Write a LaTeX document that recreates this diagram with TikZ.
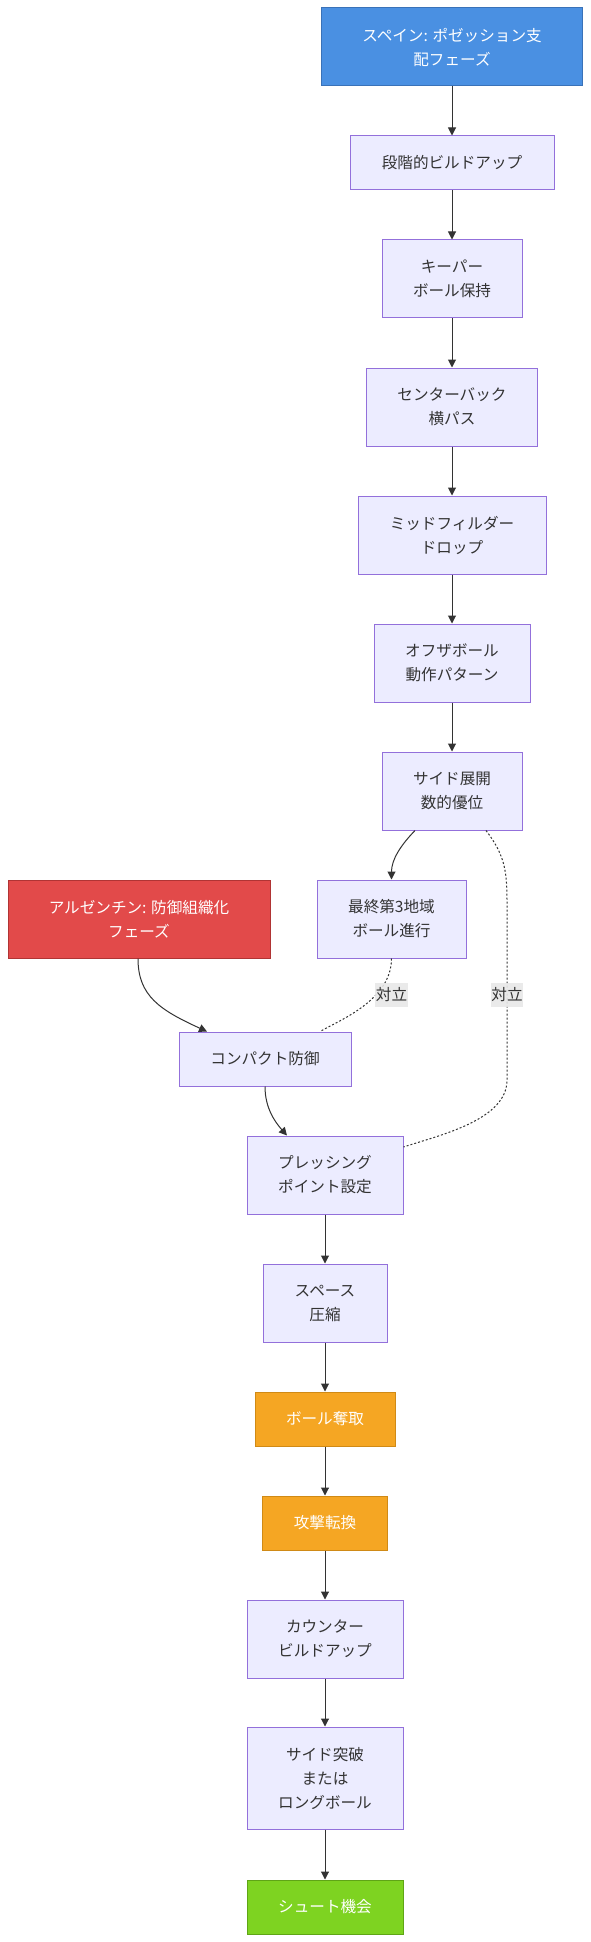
\documentclass[tikz,border=0pt]{standalone}
\usepackage{fontspec}
\setmainfont{Noto Sans CJK JP}
\usetikzlibrary{arrows.meta,calc}
\definecolor{lavfill}{HTML}{ECECFF}
\definecolor{lavborder}{HTML}{9370DB}
\definecolor{txt}{HTML}{333333}
\definecolor{bluefill}{HTML}{4A90E2}
\definecolor{blueborder}{HTML}{3A72B8}
\definecolor{redfill}{HTML}{E24A4A}
\definecolor{redborder}{HTML}{B03434}
\definecolor{orangefill}{HTML}{F5A623}
\definecolor{orangeborder}{HTML}{D08A16}
\definecolor{greenfill}{HTML}{7ED321}
\definecolor{greenborder}{HTML}{5FA516}
\definecolor{lblbg}{HTML}{E8E8E8}
\begin{document}
\begin{tikzpicture}[x=1pt,y=-1pt,
  every node/.style={font=\fontsize{15.6pt}{24pt}\selectfont, align=center, inner sep=0pt},
  box/.style={draw=lavborder, fill=lavfill, text=txt, line width=1pt},
  bluebox/.style={draw=blueborder, fill=bluefill, text=white, line width=1pt},
  redbox/.style={draw=redborder, fill=redfill, text=white, line width=1pt},
  orangebox/.style={draw=orangeborder, fill=orangefill, text=white, line width=1pt},
  greenbox/.style={draw=greenborder, fill=greenfill, text=white, line width=1pt},
  lbl/.style={fill=lblbg, fill opacity=0.9, text opacity=1, text=txt, minimum height=24pt, inner xsep=0.5pt},
  arr/.style={draw=txt, line width=1pt, -{Triangle[length=8pt,width=8pt]}},
  dotline/.style={draw=txt, line width=1pt, dash pattern=on 2pt off 2pt}
]
\useasboundingbox[fill=white] (0,0) rectangle (591,1942);

\node[bluebox, minimum width=261pt, minimum height=78pt] (n1) at (452,47) {スペイン: ポゼッション支\\配フェーズ};
\node[box, minimum width=204pt, minimum height=54pt] (n2) at (452,163) {段階的ビルドアップ};
\node[box, minimum width=140pt, minimum height=78pt] (n3) at (452,279) {キーパー\\ボール保持};
\node[box, minimum width=171pt, minimum height=78pt] (n4) at (452,407) {センターバック\\横パス};
\node[box, minimum width=188pt, minimum height=78pt] (n5) at (452,535) {ミッドフィルダー\\ドロップ};
\node[box, minimum width=156pt, minimum height=78pt] (n6) at (452,663) {オフザボール\\動作パターン};
\node[box, minimum width=140pt, minimum height=78pt] (n7) at (452,791) {サイド展開\\数的優位};
\node[box, minimum width=149pt, minimum height=78pt] (n8) at (391.5,919) {最終第3地域\\ボール進行};
\node[redbox, minimum width=262pt, minimum height=78pt] (arg) at (139,919) {アルゼンチン: 防御組織化\\フェーズ};
\node[box, minimum width=172pt, minimum height=54pt] (n10) at (265,1059) {コンパクト防御};
\node[box, minimum width=156pt, minimum height=78pt] (n11) at (325,1175) {プレッシング\\ポイント設定};
\node[box, minimum width=124pt, minimum height=78pt] (n12) at (325,1303) {スペース\\圧縮};
\node[orangebox, minimum width=140pt, minimum height=54pt] (n13) at (325,1419) {ボール奪取};
\node[orangebox, minimum width=125pt, minimum height=54pt] (n14) at (325,1523) {攻撃転換};
\node[box, minimum width=156pt, minimum height=78pt] (n15) at (325,1639) {カウンター\\ビルドアップ};
\node[box, minimum width=156pt, minimum height=102pt] (n16) at (325,1778) {サイド突破\\または\\ロングボール};
\node[greenbox, minimum width=156pt, minimum height=54pt] (n17) at (325,1907) {シュート機会};

% straight arrows
\draw[arr] (n1.south) -- (n2.north);
\draw[arr] (n2.south) -- (n3.north);
\draw[arr] (n3.south) -- (n4.north);
\draw[arr] (n4.south) -- (n5.north);
\draw[arr] (n5.south) -- (n6.north);
\draw[arr] (n6.south) -- (n7.north);
\draw[arr] (n11.south) -- (n12.north);
\draw[arr] (n12.south) -- (n13.north);
\draw[arr] (n13.south) -- (n14.north);
\draw[arr] (n14.south) -- (n15.north);
\draw[arr] (n15.south) -- (n16.north);
\draw[arr] (n16.south) -- (n17.north);

% curved arrows
\draw[arr] ([xshift=-37pt]n7.south) .. controls (400,846) and (391.5,860) .. (n8.north);
\draw[arr] ([xshift=-1pt]arg.south) .. controls (138,996) and (160,1010) .. ([xshift=-58pt]n10.north);
\draw[arr] (n10.south) .. controls (265,1108) and (275,1122) .. ([xshift=-38pt]n11.north);

% dotted opposition lines
\draw[dotline] (n8.south) .. controls (391.5,1000) and (340,1020) .. ([xshift=55pt]n10.north);
\draw[dotline] ([xshift=34pt]n7.south) .. controls (504,854) and (507,870) .. (507,900)
  -- (507,1080) .. controls (507,1120) and (440,1135) .. ([yshift=28pt]n11.east);

\node[lbl] (l1) at (391.5,995) {対立};
\node[lbl] (l2) at (507,995) {対立};
\end{tikzpicture}
\end{document}
